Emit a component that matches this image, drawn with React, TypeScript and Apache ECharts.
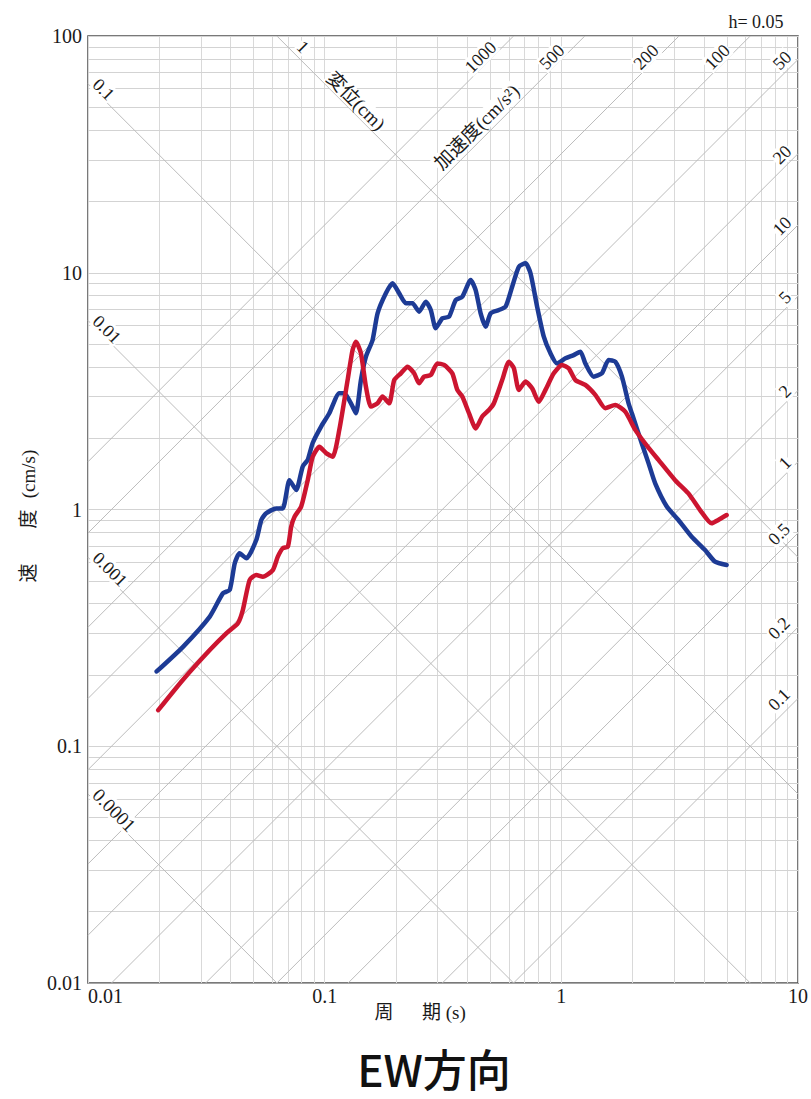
import React, { useEffect, useRef } from 'react';
import * as echarts from 'echarts';

// ---- axis ranges & tick labels ----
const T_MIN = 0.01;
const T_MAX = 10;
const V_MIN = 0.01;
const V_MAX = 100;
const periodTicks = ['0.01', '0.1', '1', '10'];
const velocityTicks = ['0.01', '0.1', '1', '10', '100'];

// ---- tripartite reference lines ----
const displacementLines = [0.0001, 0.001, 0.01, 0.1, 1];
const displacementLabels = ['0.0001', '0.001', '0.01', '0.1', '1'];
const accelerationLines = [0.1, 0.2, 0.5, 1, 2, 5, 10, 20, 50, 100, 200, 500, 1000];
const accelerationLabels = ['0.1', '0.2', '0.5', '1', '2', '5', '10', '20', '50', '100', '200', '500', '1000'];

// ---- spectra (period s, velocity cm/s) ----
const blueT = [0.0195, 0.0252, 0.0327, 0.0372, 0.0397, 0.0417, 0.0437, 0.0467, 0.0514, 0.0540,
  0.0566, 0.0624, 0.0665, 0.0710, 0.0758, 0.0808, 0.0848, 0.0890, 0.0966, 0.1046,
  0.1153, 0.1211, 0.1312, 0.1356, 0.1423, 0.1494, 0.1594, 0.1673, 0.1814, 0.1935,
  0.2064, 0.2203, 0.2349, 0.2506, 0.2675, 0.2808, 0.2947, 0.3143, 0.3354, 0.3579,
  0.3816, 0.4141, 0.4345, 0.4561, 0.4787, 0.5026, 0.5448, 0.5812, 0.6198, 0.6615,
  0.7059, 0.7409, 0.7901, 0.8431, 0.8996, 0.9590, 1.041, 1.128, 1.204, 1.263,
  1.369, 1.484, 1.584, 1.690, 1.803, 1.923, 1.986, 2.188, 2.335, 2.492,
  2.789, 3.124, 3.554, 4.048, 4.461, 4.993];
const blueV = [0.207, 0.263, 0.353, 0.443, 0.457, 0.593, 0.653, 0.622, 0.743, 0.903,
  0.964, 1.01, 1.01, 1.33, 1.21, 1.52, 1.62, 1.91, 2.24, 2.55,
  3.10, 3.10, 2.72, 2.55, 3.52, 4.42, 5.20, 6.74, 8.19, 9.03,
  8.19, 7.43, 7.43, 6.85, 7.55, 6.96, 5.83, 6.42, 6.52, 7.67,
  7.92, 9.32, 8.45, 6.74, 5.92, 6.74, 6.96, 7.19, 8.73, 10.6,
  10.96, 9.95, 7.19, 5.37, 4.57, 4.14, 4.35, 4.49, 4.64, 4.14,
  3.64, 3.76, 4.28, 4.21, 3.64, 2.81, 2.55, 1.90, 1.57, 1.29,
  1.03, 0.903, 0.767, 0.674, 0.602, 0.583];

const redT = [0.0198, 0.0252, 0.0327, 0.0384, 0.0430, 0.0451, 0.0482, 0.0514, 0.0548, 0.0604,
  0.0634, 0.0665, 0.0699, 0.0722, 0.0746, 0.0796, 0.0848, 0.0890, 0.0950, 0.1014,
  0.1081, 0.1153, 0.1250, 0.1312, 0.1356, 0.1423, 0.1494, 0.1569, 0.1673, 0.1755,
  0.1874, 0.1967, 0.2099, 0.2238, 0.2388, 0.2506, 0.2631, 0.2808, 0.2994, 0.3195,
  0.3462, 0.3635, 0.3816, 0.4073, 0.4345, 0.4633, 0.4943, 0.5189, 0.5624, 0.6002,
  0.6302, 0.6615, 0.7059, 0.7525, 0.8031, 0.8570, 0.9290, 1.007, 1.074, 1.147,
  1.263, 1.392, 1.534, 1.690, 1.862, 2.053, 2.262, 2.573, 3.026, 3.443,
  3.857, 4.316, 4.606, 4.993];
const redV = [0.142, 0.191, 0.255, 0.300, 0.331, 0.376, 0.504, 0.529, 0.520, 0.555,
  0.632, 0.686, 0.697, 0.846, 0.932, 1.03, 1.33, 1.67, 1.84, 1.73,
  1.67, 2.17, 3.52, 4.72, 5.11, 4.57, 3.30, 2.72, 2.81, 3.00,
  2.81, 3.52, 3.76, 4.01, 3.76, 3.41, 3.64, 3.70, 4.14, 4.08,
  3.76, 3.20, 3.00, 2.55, 2.20, 2.47, 2.63, 2.81, 3.52, 4.21,
  3.95, 3.20, 3.47, 3.25, 2.85, 3.20, 3.76, 4.08, 3.95, 3.52,
  3.36, 3.05, 2.68, 2.76, 2.59, 2.17, 1.90, 1.62, 1.33, 1.17,
  0.995, 0.874, 0.903, 0.948];

const SERIF = 'Liberation Serif, Noto Sans CJK JP, serif';
const TWO_PI = 2 * Math.PI;

function decadeValues(minV: number, maxV: number) {
  const out: number[] = [];
  const e0 = Math.round(Math.log10(minV));
  const e1 = Math.round(Math.log10(maxV));
  for (let e = e0; e < e1; e++) {
    for (let k = 1; k <= 9; k++) out.push(k * Math.pow(10, e));
  }
  out.push(maxV);
  return out;
}

export default function App() {
  const ref = useRef<HTMLDivElement>(null);

  useEffect(() => {
    if (!ref.current) return;
    const chart = echarts.init(ref.current, null, { renderer: 'svg' });

    const vGrid = decadeValues(T_MIN, T_MAX).map((t) => ({ coords: [[t, V_MIN], [t, V_MAX]] }));
    const hGrid = decadeValues(V_MIN, V_MAX).map((v) => ({ coords: [[T_MIN, v], [T_MAX, v]] }));

    const dDiag = displacementLines.map((d) => {
      const ts = Math.max(T_MIN, (TWO_PI * d) / V_MAX);
      const te = Math.min(T_MAX, (TWO_PI * d) / V_MIN);
      return { coords: [[ts, (TWO_PI * d) / ts], [te, (TWO_PI * d) / te]] };
    });
    const aDiag = accelerationLines.map((a) => {
      const ts = Math.max(T_MIN, (TWO_PI * V_MIN) / a);
      const te = Math.min(T_MAX, (TWO_PI * V_MAX) / a);
      return { coords: [[ts, (a * ts) / TWO_PI], [te, (a * te) / TWO_PI]] };
    });

    const tickIdx = (v: number, base: number) => Math.round(Math.log10(v)) - Math.round(Math.log10(base));

    chart.setOption({
      animation: false,
      backgroundColor: '#ffffff',
      grid: {
        left: 88, top: 36, width: 712, height: 947,
        show: true, borderColor: '#4d4d4d', borderWidth: 1.5, backgroundColor: 'transparent',
      },
      xAxis: {
        type: 'log', logBase: 10, min: T_MIN, max: T_MAX,
        axisLine: { show: false }, axisTick: { show: false }, splitLine: { show: false },
        axisLabel: {
          margin: 3, fontSize: 20, fontFamily: SERIF, color: '#1a1a1a', alignMinLabel: 'left',
          formatter: (v: number) => periodTicks[tickIdx(v, T_MIN)] ?? '',
        },
      },
      yAxis: {
        type: 'log', logBase: 10, min: V_MIN, max: V_MAX,
        axisLine: { show: false }, axisTick: { show: false }, splitLine: { show: false },
        axisLabel: {
          margin: 6, fontSize: 20, fontFamily: SERIF, color: '#1a1a1a',
          formatter: (v: number) => velocityTicks[tickIdx(v, V_MIN)] ?? '',
        },
      },
      series: [
        {
          type: 'lines', coordinateSystem: 'cartesian2d', silent: true, z: 1,
          lineStyle: { color: '#d9d9d9', width: 1, opacity: 1 }, data: vGrid,
        },
        {
          type: 'lines', coordinateSystem: 'cartesian2d', silent: true, z: 1,
          lineStyle: { color: '#d3d3d3', width: 1, opacity: 1 }, data: hGrid,
        },
        {
          type: 'lines', coordinateSystem: 'cartesian2d', silent: true, z: 1,
          lineStyle: { color: '#bcbcbc', width: 1, opacity: 1 }, data: dDiag,
        },
        {
          type: 'lines', coordinateSystem: 'cartesian2d', silent: true, z: 1,
          lineStyle: { color: '#bcbcbc', width: 1, opacity: 1 }, data: aDiag,
        },
        {
          type: 'line', name: 'blue', showSymbol: false, smooth: 0.2, z: 5,
          data: blueT.map((t, i) => [t, blueV[i]]),
          lineStyle: { color: '#1d3b95', width: 4.5, cap: 'round', join: 'round' },
          itemStyle: { color: '#1d3b95' },
        },
        {
          type: 'line', name: 'red', showSymbol: false, smooth: 0.2, z: 6,
          data: redT.map((t, i) => [t, redV[i]]),
          lineStyle: { color: '#cc1530', width: 4.5, cap: 'round', join: 'round' },
          itemStyle: { color: '#cc1530' },
        },
      ],
    });

    const P = (t: number, v: number) => chart.convertToPixel({ gridIndex: 0 }, [t, v]) as number[];
    const graphics: any[] = [];
    const labelStyle = (text: string, size = 18) => ({
      text, fontSize: size, fontFamily: SERIF, fill: '#1a1a1a',
      backgroundColor: '#fff', padding: [0, 1],
    });

    // displacement labels
    displacementLines.forEach((d, i) => {
      if (d >= 1) return;
      const t0 = 0.0102;
      const p = P(t0, (TWO_PI * d) / t0);
      graphics.push({
        type: 'text', x: p[0] + 5, y: p[1] - 5, rotation: -Math.PI / 4, z: 50,
        style: { ...labelStyle(displacementLabels[i], d < 0.001 ? 19 : 18), align: 'left', verticalAlign: 'middle' },
      });
    });
    const d1Idx = displacementLines.indexOf(1);
    const d1Top = P((TWO_PI * 1) / V_MAX, V_MAX);
    graphics.push({
      type: 'text', x: d1Top[0] + 26, y: d1Top[1] + 11, rotation: -Math.PI / 4, z: 50,
      style: { ...labelStyle(displacementLabels[d1Idx]), align: 'center', verticalAlign: 'middle' },
    });
    graphics.push({
      type: 'text', x: d1Top[0] + 79, y: d1Top[1] + 65, rotation: -Math.PI / 4, z: 50,
      style: { ...labelStyle('変位(cm)', 19), align: 'center', verticalAlign: 'middle' },
    });

    // acceleration labels
    accelerationLines.forEach((a, i) => {
      const tTop = (TWO_PI * V_MAX) / a;
      const txt = accelerationLabels[i];
      let cx: number, cy: number;
      if (tTop <= T_MAX) {
        const p = P(tTop, V_MAX);
        cx = p[0] - 33; cy = p[1] + 21;
      } else {
        const p = P(T_MAX, (a * T_MAX) / TWO_PI);
        cx = p[0] - 10 - txt.length * 3; cy = p[1] + 1;
      }
      graphics.push({
        type: 'text', x: cx, y: cy, rotation: Math.PI / 4, z: 50,
        style: { ...labelStyle(txt, 18), align: 'center', verticalAlign: 'middle' },
      });
    });
    const a500Top = P((TWO_PI * V_MAX) / 500, V_MAX);
    graphics.push({
      type: 'text', x: a500Top[0] - 108, y: a500Top[1] + 91, rotation: Math.PI / 4, z: 50,
      style: { ...labelStyle('加速度(cm/s²)', 19), align: 'center', verticalAlign: 'middle' },
    });

    // damping label
    graphics.push({
      type: 'text', x: 756, y: 22, z: 50,
      style: { text: 'h= 0.05', fontSize: 18, fontFamily: SERIF, fill: '#1a1a1a', align: 'center', verticalAlign: 'middle' },
    });

    // axis names
    const nameStyle = (text: string, align: string) => ({
      text, fontSize: 19, fontFamily: SERIF, fill: '#1a1a1a', align, verticalAlign: 'middle',
    });
    graphics.push({ type: 'text', x: 28, y: 573, rotation: Math.PI / 2, z: 50, style: nameStyle('速', 'center') });
    graphics.push({ type: 'text', x: 28, y: 519, rotation: Math.PI / 2, z: 50, style: nameStyle('度', 'center') });
    graphics.push({ type: 'text', x: 28, y: 474, rotation: Math.PI / 2, z: 50, style: nameStyle('(cm/s)', 'center') });
    graphics.push({ type: 'text', x: 384, y: 1012, z: 50, style: nameStyle('周', 'center') });
    graphics.push({ type: 'text', x: 422, y: 1012, z: 50, style: nameStyle('期 (s)', 'left') });

    // title
    graphics.push({
      type: 'text', x: 434, y: 1068, z: 50,
      style: {
        text: 'EW方向', fontSize: 44, fontFamily: 'Noto Sans CJK JP, sans-serif', fill: '#111',
        align: 'center', verticalAlign: 'middle', fontWeight: 500,
      },
    });

    chart.setOption({ graphic: graphics });

    return () => chart.dispose();
  }, []);

  return (
    <div
      ref={ref}
      style={{ position: 'absolute', left: 0, top: 0, width: 811, height: 1099, background: '#fff' }}
    />
  );
}
